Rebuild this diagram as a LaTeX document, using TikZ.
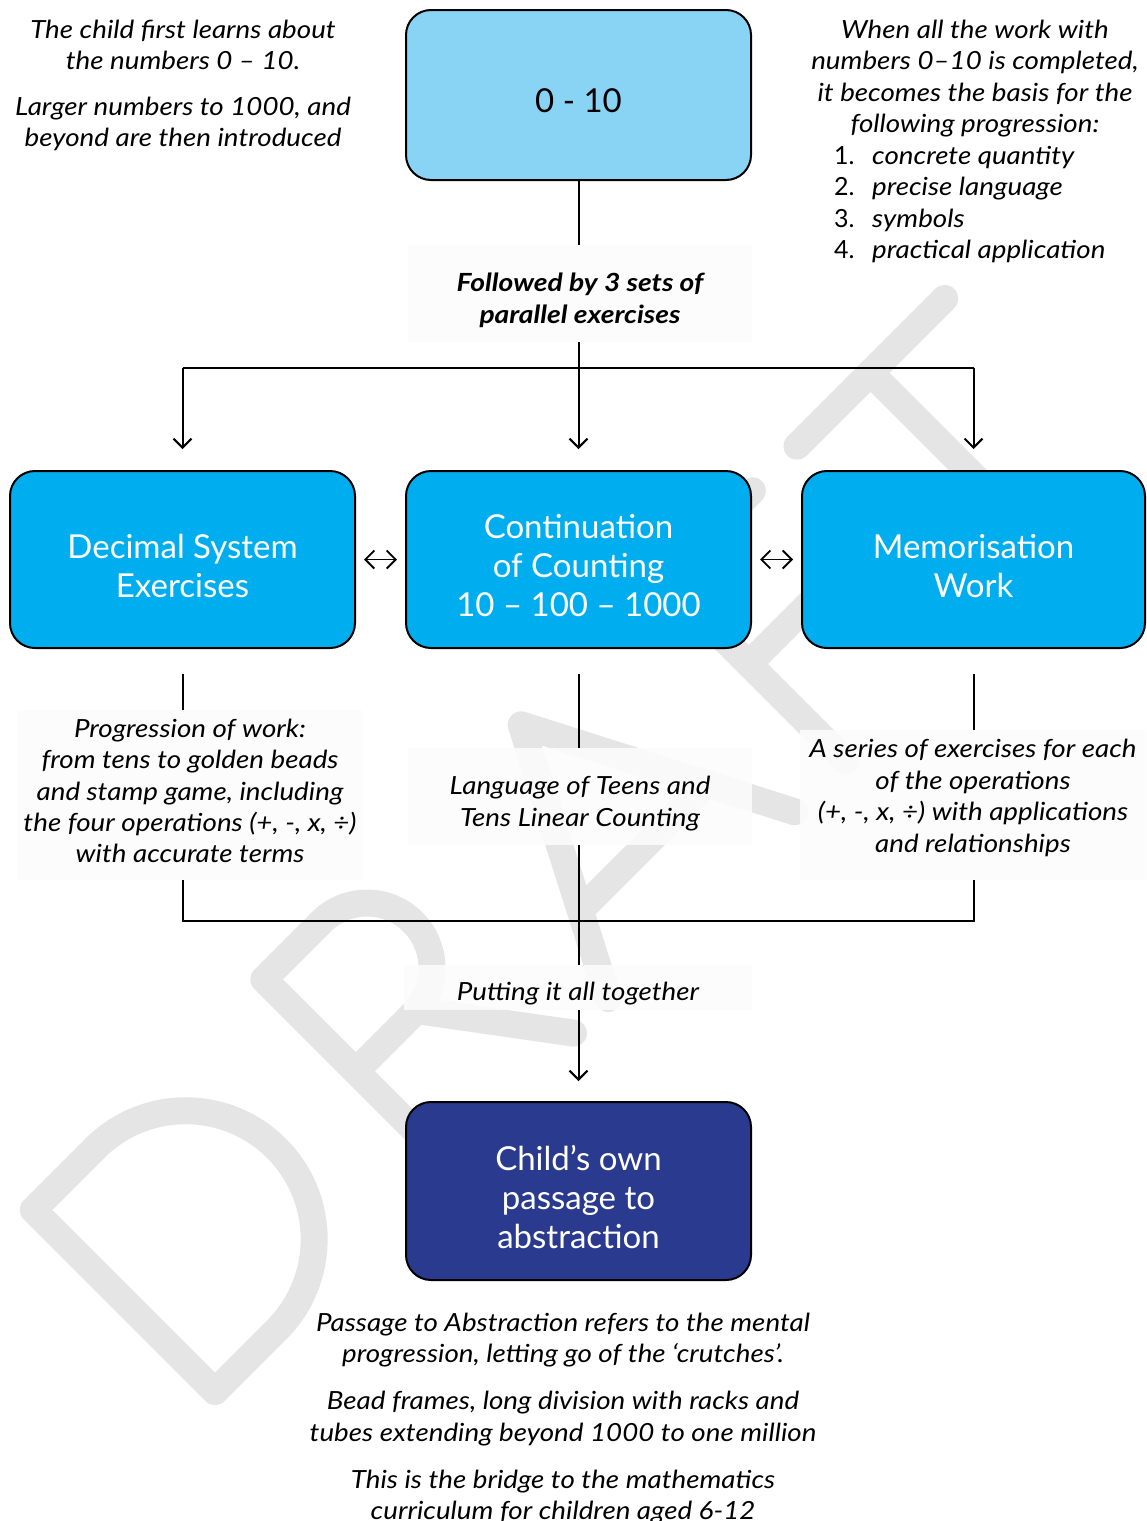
\documentclass[tikz,border=0pt]{standalone}
\usepackage{fontspec}
\setmainfont{Lato}[ItalicFeatures={FakeStretch=1.11}, BoldItalicFeatures={FakeStretch=1.13}]
\usetikzlibrary{arrows.meta,calc}
\definecolor{wm}{RGB}{229,229,229}
\definecolor{lightb}{RGB}{137,212,245}
\definecolor{cyanb}{RGB}{0,174,239}
\definecolor{navyb}{RGB}{42,59,143}
\definecolor{lblbg}{RGB}{252,252,252}
\newcommand\btxt[2]{\raisebox{-#1}[\height][\depth]{\begin{tabular}{@{}c@{}}#2\end{tabular}}}
\begin{document}
\begin{tikzpicture}[x=1pt,y=-1pt,
  box/.style={draw=black, line width=2pt, rounded corners=25pt, minimum width=345pt, minimum height=177pt, align=center, inner sep=0pt},
  boxtxt/.style={font=\fontsize{33}{39}\selectfont, text=white},
  note/.style={align=center, font=\fontsize{25}{31.4}\selectfont\itshape, inner sep=0pt},
  lblbox/.style={fill=lblbg, fill opacity=0.9, inner sep=0pt},
  conn/.style={line width=2pt},
  arr/.style={conn, -{Straight Barb[length=9pt,width=18pt]}},
  darr/.style={line width=1.8pt, {Straight Barb[length=9pt,width=18pt]}-{Straight Barb[length=9pt,width=18pt]}},
  wmk/.style={draw=wm, line width=27pt, line cap=round, line join=round}
]
\useasboundingbox (0,0) rectangle (1147,1521);
% watermark DRAFT
\begin{scope}[shift={(215,1410)}, x={(0.7071pt,0.7071pt)}, y={(-0.7071pt,0.7071pt)}]
  \draw[wmk] (100,270) -- (13,270) -- (13,13) -- (100,13) arc[start angle=-90, end angle=90, radius=128.5] -- cycle;
  \draw[wmk] (339,13) -- (339,270) -- (420,270) arc[start angle=90, end angle=-90, radius=65] -- (339,140);
  \draw[wmk] (425,140) -- (520,13);
  \draw[wmk] (569,13) -- (701,268) -- (833,13);
  \draw[wmk] (613,95) -- (789,95);
  \draw[wmk] (1030,270) -- (905,270) -- (905,13);
  \draw[wmk] (905,150) -- (1000,150);
  \draw[wmk] (1093,270) -- (1302,270);
  \draw[wmk] (1197,270) -- (1197,13);
\end{scope}

% boxes
\node[box, fill=lightb, minimum height=170pt, font=\fontsize{33}{39}\selectfont] (top) at (578.5,95) {\btxt{10pt}{0 - 10}};
\node[box, fill=cyanb, boxtxt] (dec) at (182.5,559.5) {\btxt{10.5pt}{Decimal System\\Exercises}};
\node[box, fill=cyanb, boxtxt] (cont) at (578.5,559.5) {\btxt{10pt}{Continuation\\of Counting\\10 – 100 – 1000}};
\node[box, fill=cyanb, boxtxt, minimum width=343pt] (mem) at (973.5,559.5) {\btxt{10.5pt}{Memorisation\\Work}};
\node[box, fill=navyb, boxtxt, minimum height=178pt] (child) at (578.5,1191) {\btxt{10.5pt}{Child’s own\\passage to\\abstraction}};

% label backgrounds
\node[lblbox, minimum width=344pt, minimum height=97pt] (lab1bg) at (580,293.5) {};
\node[lblbox, minimum width=345pt, minimum height=170pt] (lab2bg) at (189.5,795) {};
\node[lblbox, minimum width=344pt, minimum height=97pt] (lab3bg) at (580,796.5) {};
\node[lblbox, minimum width=346pt, minimum height=150pt] (lab4bg) at (973,805) {};
\node[lblbox, minimum width=348pt, minimum height=45pt] (lab5bg) at (578,987.5) {};

% connectors
\coordinate (bar) at (578.5,368);
\coordinate (join) at (578.5,921);
\draw[conn] (top.south) -- (top.south |- lab1bg.north);
\draw[conn] (top.south |- lab1bg.south) -- (bar);
\draw[arr, shorten >=21pt] (bar) -- (cont.north);
\draw[conn] (dec.north |- bar) -- (mem.north |- bar);
\draw[arr, shorten >=21pt] (dec.north |- bar) -- (dec.north);
\draw[arr, shorten >=21pt] (mem.north |- bar) -- (mem.north);
\draw[darr, shorten <=8pt, shorten >=8pt] (dec.east) -- (cont.west);
\draw[darr, shorten <=8pt, shorten >=8pt] (cont.east) -- (mem.west);
\draw[conn] ($(dec.south)+(0,25)$) -- (dec.south |- lab2bg.north);
\draw[conn] ($(cont.south)+(0,25)$) -- (cont.south |- lab3bg.north);
\draw[conn] ($(mem.south)+(0,25)$) -- (mem.south |- lab4bg.north);
\draw[conn] (dec.south |- lab2bg.south) -- (dec.south |- join) -- (mem.south |- join) -- (mem.south |- lab4bg.south);
\draw[conn] (cont.south |- lab3bg.south) -- (cont.south |- lab5bg.north);
\draw[arr, shorten >=20pt] (cont.south |- lab5bg.south) -- (child.north);

% label texts
\node[note, font=\fontsize{25}{31.4}\selectfont\bfseries\itshape] (lab1) at (580,300.5) {Followed by 3 sets of\\parallel exercises};
\node[note] (lab2) at (190,791) {Progression of work:\\from tens to golden beads\\and stamp game, including\\the four operations (+, -, x, ÷)\\with accurate terms};
\node[note] (lab3) at (580,803.5) {Language of Teens and\\Tens Linear Counting};
\node[note] (lab4) at (973,798) {A series of exercises for each\\of the operations\\(+, -, x, ÷) with applications\\and relationships};
\node[note] (lab5) at (578,994) {Putting it all together};

% free notes
\node[note] (tl) at (183,85.5) {The child first learns about\\the numbers 0 – 10.\\[14.5pt]Larger numbers to 1000, and\\beyond are then introduced};
\node[note] (tr) at (975,78.5) {When all the work with\\numbers 0–10 is completed,\\it becomes the basis for the\\following progression:};
\node[note, align=left, anchor=west] (trl) at (834,204.5) {\makebox[38pt][l]{\upshape 1.}concrete quantity\\\makebox[38pt][l]{\upshape 2.}precise language\\\makebox[38pt][l]{\upshape 3.}symbols\\\makebox[38pt][l]{\upshape 4.}practical application};
\node[note] (bt) at (563,1418.5) {Passage to Abstraction refers to the mental\\progression, letting go of the ‘crutches’.\\[15.5pt]Bead frames, long division with racks and\\tubes extending beyond 1000 to one million\\[15.5pt]This is the bridge to the mathematics\\curriculum for children aged 6-12};
\end{tikzpicture}
\end{document}
